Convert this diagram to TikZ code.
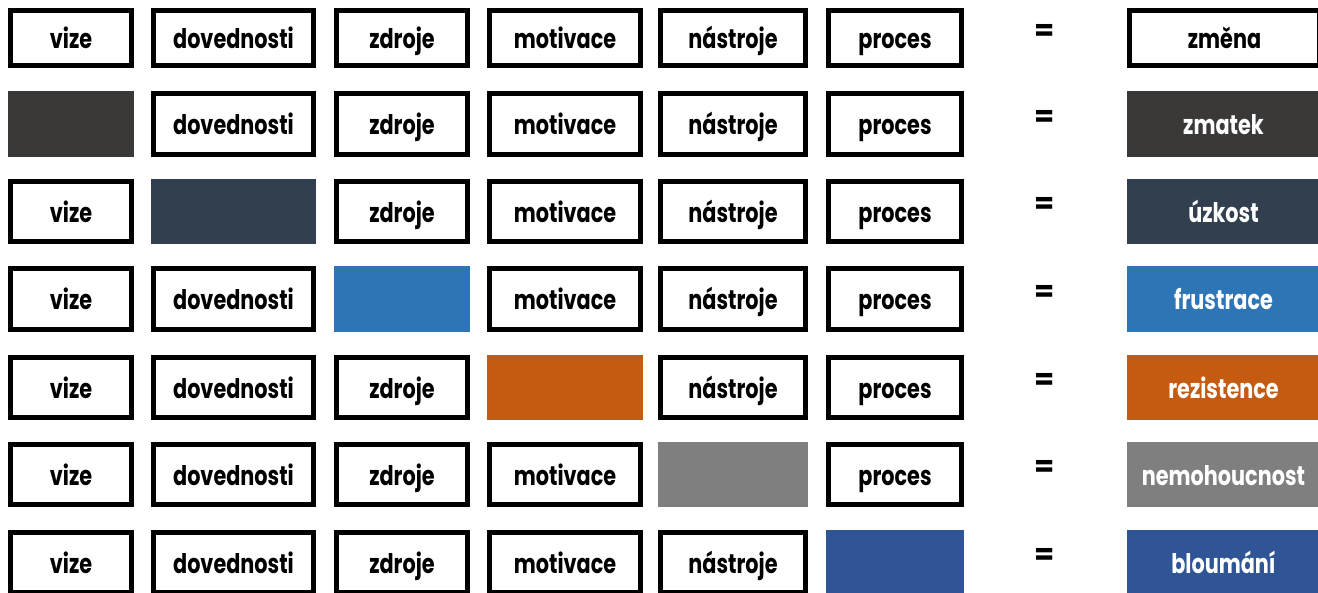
\documentclass[tikz,border=0pt]{standalone}
\usepackage{fontspec}
\newfontfamily\lblfont{Poppins}[FakeStretch=0.77]
\newfontfamily\eqfont{Poppins}
\definecolor{row2}{HTML}{3B3838}
\definecolor{row3}{HTML}{323F4F}
\definecolor{row4}{HTML}{2E75B6}
\definecolor{row5}{HTML}{C55A11}
\definecolor{row6}{HTML}{7F7F7F}
\definecolor{row7}{HTML}{2F5597}
\begin{document}
\begin{tikzpicture}[x=1pt,y=-1pt,
  lbl/.style={font=\lblfont\bfseries\fontsize{27}{32}\selectfont, text height=21.5pt, text depth=0pt, inner sep=0pt},
  cellbox/.style={lbl, draw=black, line width=5pt, fill=white, text=black},
  fillbox/.style={lbl, draw=none, text=white},
  eqsign/.style={font=\eqfont\bfseries\fontsize{29}{34}\selectfont, inner sep=0pt}]
\useasboundingbox (0,0) rectangle (1318,593);
\fill[white] (0,0) rectangle (1318,593);
\foreach \r/\t/\b/\res in {1/8/68/změna, 2/91/157/zmatek, 3/179/244/úzkost, 4/266/332/frustrace, 5/355/420/rezistence, 6/442/507/nemohoucnost, 7/530/595/bloumání}{
  \pgfmathsetmacro\cy{(\t+\b)/2}
  \pgfmathsetmacro\hh{\b-\t}
  \pgfmathsetmacro\ho{\b-\t-5}
  \pgfmathtruncatemacro\fc{\r-1}
  \foreach \c/\l/\rt/\w in {1/8/134/vize, 2/151/316/dovednosti, 3/334/470/zdroje, 4/487/643/motivace, 5/658/808/nástroje, 6/826/964/proces}{
    \pgfmathsetmacro\cx{(\l+\rt)/2}
    \pgfmathsetmacro\ww{\rt-\l}
    \pgfmathsetmacro\wo{\rt-\l-5}
    \ifnum\c=\fc
      \node[fillbox, fill=row\r, minimum width=\ww pt, minimum height=\hh pt] (n\r-\c) at (\cx,\cy) {};
    \else
      \node[cellbox, minimum width=\wo pt, minimum height=\ho pt] (n\r-\c) at (\cx,\cy) {\w};
    \fi
  }
  \node[eqsign] (eq\r) at (1045,\cy-6) {=};
  \ifnum\r=1
    \node[cellbox, minimum width=190pt, minimum height=\ho pt] (res\r) at (1224.5,\cy) {\res};
  \else
    \node[fillbox, fill=row\r, minimum width=193pt, minimum height=\hh pt] (res\r) at (1223.5,\cy) {\res};
  \fi
}
\end{tikzpicture}
\end{document}
